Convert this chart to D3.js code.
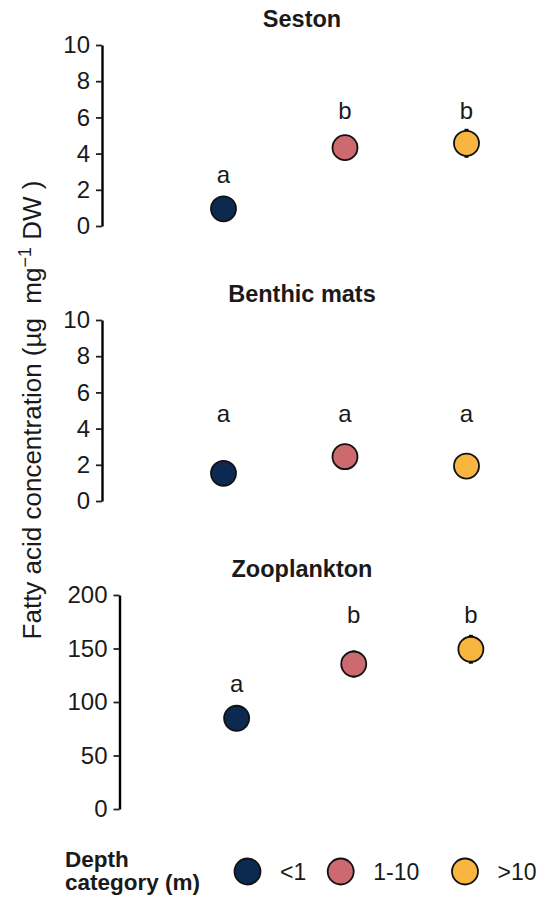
<!DOCTYPE html>
<html>
<head>
<meta charset="utf-8">
<script src="https://cdn.jsdelivr.net/npm/d3@7"></script>
<style>
  html, body { margin: 0; padding: 0; background: #fff; }
  svg { display: block; }
  text { font-family: "Liberation Sans", Arial, sans-serif; fill: #1a1a1a; }
</style>
</head>
<body>
<svg id="chart" width="543" height="900"></svg>
<script>
// ---- data ----
const categories = ["<1", "1-10", ">10"];
const colors = ["#0c2a50", "#cc6a70", "#f8b641"];

const panelTitles = ["Seston", "Benthic mats", "Zooplankton"];

const sestonMean = [0.95, 4.33, 4.57];
const sestonSE = [0.25, 0.45, 0.8];
const sestonLetters = ["a", "b", "b"];
const sestonLetterY = [2.39, 5.9, 5.9];
const sestonTicks = [0, 2, 4, 6, 8, 10];

const benthicMean = [1.53, 2.45, 1.93];
const benthicSE = [0.3, 0.35, 0.3];
const benthicLetters = ["a", "a", "a"];
const benthicLetterY = [4.38, 4.38, 4.38];
const benthicTicks = [0, 2, 4, 6, 8, 10];

const zooMean = [84.8, 135.5, 149.3];
const zooSE = [6, 12.6, 13.5];
const zooLetters = ["a", "b", "b"];
const zooLetterY = [109.6, 174, 174];
const zooTicks = [0, 50, 100, 150, 200];

const legendTitle = ["Depth", "category (m)"];
const yTitle = "Fatty acid concentration (µg\u00a0\u00a0mg";

// ---- layout ----
const svg = d3.select("#chart");
const R = 12.5;
const FONT = "Liberation Sans, Arial, sans-serif";

const panels = [
  { title: panelTitles[0], mean: sestonMean, se: sestonSE, letters: sestonLetters, letterY: sestonLetterY,
    ticks: sestonTicks, max: 10, axisX: 102, top: 45, bottom: 226, titleY: 27 },
  { title: panelTitles[1], mean: benthicMean, se: benthicSE, letters: benthicLetters, letterY: benthicLetterY,
    ticks: benthicTicks, max: 10, axisX: 102, top: 320, bottom: 501, titleY: 302 },
  { title: panelTitles[2], mean: zooMean, se: zooSE, letters: zooLetters, letterY: zooLetterY,
    ticks: zooTicks, max: 200, axisX: 119.5, top: 595, bottom: 809, titleY: 577 }
];

panels.forEach(p => {
  const x = d3.scalePoint().domain(categories).range([p.axisX, 588]).padding(1);
  const y = d3.scaleLinear().domain([0, p.max]).range([p.bottom, p.top]);
  const g = svg.append("g");

  // title
  g.append("text").attr("x", 302).attr("y", p.titleY)
    .attr("text-anchor", "middle").attr("font-weight", "bold").attr("font-size", 23.5)
    .text(p.title);

  // axis
  const ax = g.append("g").attr("transform", `translate(${p.axisX},0)`)
    .call(d3.axisLeft(y).tickValues(p.ticks).tickSize(6).tickSizeOuter(0).tickPadding(6));
  ax.select(".domain").attr("stroke", "#000").attr("stroke-width", 2.4);
  ax.selectAll(".tick line").attr("stroke", "#222").attr("stroke-width", 1.8);
  ax.selectAll(".tick text").attr("font-size", 24).attr("fill", "#1a1a1a")
    .attr("font-family", FONT);

  const data = categories.map((c, i) => ({ c, m: p.mean[i], se: p.se[i], l: p.letters[i], ly: p.letterY[i], col: colors[i] }));

  // error bars
  g.selectAll(".eb").data(data).enter().append("line")
    .attr("x1", d => x(d.c)).attr("x2", d => x(d.c))
    .attr("y1", d => y(d.m - d.se)).attr("y2", d => y(d.m + d.se))
    .attr("stroke", "#000").attr("stroke-width", 4);

  // points
  g.selectAll(".pt").data(data).enter().append("circle")
    .attr("cx", d => x(d.c)).attr("cy", d => y(d.m)).attr("r", R)
    .attr("fill", d => d.col).attr("stroke", "#111").attr("stroke-width", 1.8);

  // letters
  g.selectAll(".lt").data(data).enter().append("text")
    .attr("x", d => x(d.c)).attr("y", d => y(d.ly))
    .attr("text-anchor", "middle").attr("font-size", 24)
    .text(d => d.l);
});

// y axis title
const yt = svg.append("text")
  .attr("transform", "translate(41,410) rotate(-90)")
  .attr("text-anchor", "middle").attr("font-size", 26);
yt.append("tspan").text(yTitle);
yt.append("tspan").attr("dy", -10).attr("font-size", 18).text("−1");
yt.append("tspan").attr("dy", 10).text("\u00a0DW )");

// legend
const lg = svg.append("g");
lg.selectAll(".lt").data(legendTitle).enter().append("text")
  .attr("x", 65).attr("y", (d, i) => 867 + i * 23)
  .attr("font-weight", "bold").attr("font-size", 22.5).text(d => d);

const legendX = [247.5, 340.7, 465];
categories.forEach((c, i) => {
  lg.append("circle").attr("cx", legendX[i]).attr("cy", 871.5).attr("r", 13)
    .attr("fill", colors[i]).attr("stroke", "#111").attr("stroke-width", 1.8);
  lg.append("text").attr("x", legendX[i] + 32.5).attr("y", 880)
    .attr("font-size", 23).text(c);
});
</script>
</body>
</html>
